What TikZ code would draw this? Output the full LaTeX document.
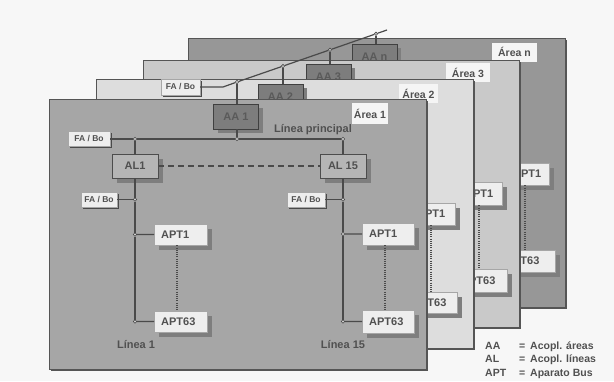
\documentclass[tikz,border=0pt]{standalone}
\usepackage{fontspec}
\setmainfont{Liberation Sans}
\usetikzlibrary{shadows}
\definecolor{linec}{HTML}{4A4A4A}
\definecolor{txt}{HTML}{505050}
\definecolor{aonefill}{HTML}{A6A6A6}
\definecolor{atwofill}{HTML}{DDDDDD}
\definecolor{athreefill}{HTML}{C9C9C9}
\definecolor{anfill}{HTML}{979797}
\definecolor{pborder}{HTML}{555555}
\definecolor{boxfill}{HTML}{EEEEEE}
\definecolor{shadowc}{HTML}{7E7E7E}
\definecolor{aafill}{HTML}{7D7D7D}
\definecolor{aatext}{HTML}{5A5A5A}
\definecolor{alfill}{HTML}{B5B5B5}
\definecolor{bgc}{HTML}{F7F7F7}
\begin{document}
\begin{tikzpicture}[x=1pt,y=-1pt,
  panel/.style={draw=pborder,line width=1pt,drop shadow={shadow xshift=1.6pt,shadow yshift=-1.6pt,fill=pborder,opacity=1}},
  lbl/.style={fill=white!96!black,inner sep=0pt,minimum width=40pt,minimum height=19pt,font=\fontsize{10.5}{12}\selectfont\bfseries,text=txt},
  fabo/.style={draw=gray!70,fill=boxfill,inner sep=0pt,minimum height=15pt,font=\fontsize{8.5}{10}\selectfont\bfseries,text=txt,drop shadow={shadow xshift=1.5pt,shadow yshift=-1.8pt,fill=linec,opacity=1}},
  apt/.style={draw=gray!70,fill=boxfill,inner xsep=7pt,inner ysep=0pt,text width=#1,align=left,font=\fontsize{11}{13}\selectfont\bfseries,text=txt,anchor=north west,drop shadow={shadow xshift=4.5pt,shadow yshift=-4.5pt,fill=shadowc,opacity=1}},
  al/.style={draw=gray!60!black,fill=alfill,minimum width=46pt,minimum height=24pt,inner sep=0pt,font=\fontsize{11}{13}\selectfont\bfseries,text=txt,drop shadow={shadow xshift=4.5pt,shadow yshift=-4.5pt,fill=shadowc,opacity=1}},
  aa/.style={draw=gray!50!black,fill=aafill,minimum width=45pt,minimum height=25pt,inner sep=0pt,font=\fontsize{11}{13}\selectfont\bfseries,text=aatext,drop shadow={shadow xshift=4pt,shadow yshift=-4pt,fill=shadowc,opacity=1}},
  jn/.style={circle,draw=linec,fill=gray!35,line width=0.6pt,inner sep=0pt,minimum size=3.4pt},
  bus/.style={draw=linec,line width=1.2pt},
  dots/.style={draw=linec,line width=1.1pt,dash pattern=on 1pt off 1.2pt},
  linetxt/.style={font=\fontsize{11}{13}\selectfont\bfseries,text=txt,inner sep=0pt},
  leg/.style={font=\fontsize{10.5}{12}\selectfont\bfseries,text=txt,inner sep=0pt,anchor=base west}
]
\useasboundingbox[fill=bgc] (0,0) rectangle (614,381);

% ---------------- Area n ----------------
\path[panel,fill=anfill] (188,38) rectangle (565,307);
\node[aa] (aan) at (374.5,56.5) {AA n};
\node[apt=29pt,minimum height=22pt] (anp1) at (506,163) {APT1};
\node[apt=43pt,minimum height=22pt] (anp63) at (498,250) {APT63};
\coordinate (dxn) at (525,0);
\draw[dots] (dxn |- anp1.south) -- (dxn |- anp63.north);
\node[lbl,minimum width=45pt] (lbn) at (514.5,52) {Área n};

% ---------------- Area 3 ----------------
\path[panel,fill=athreefill] (143,60) rectangle (519,327);
\node[aa] (aa3) at (328.5,76.5) {AA 3};
\node[apt=30pt,minimum height=23pt] (a3p1) at (458,182) {APT1};
\node[apt=39pt,minimum height=23pt] (a3p63) at (454,269) {APT63};
\coordinate (dx3) at (479,0);
\draw[dots] (dx3 |- a3p1.south) -- (dx3 |- a3p63.north);
\node[lbl,minimum width=44pt] (lb3) at (468,72.5) {Área 3};

% ---------------- Area 2 ----------------
\path[panel,fill=atwofill] (96,79) rectangle (473,348);
\node[aa] (aa2) at (280.5,96.5) {AA 2};
\node[fabo,minimum width=39pt,minimum height=16pt] (fb2) at (180.5,87) {FA / Bo};
\node[apt=31pt,minimum height=22pt] (a2p1) at (410,203) {APT1};
\node[apt=38pt,minimum height=21pt] (a2p63) at (405,292) {APT63};
\coordinate (dx2) at (431,0);
\draw[dots] (dx2 |- a2p1.south) -- (dx2 |- a2p63.north);
\node[lbl,minimum width=39pt] (lb2) at (418.5,93.5) {Área 2};

% ---------------- Area 1 ----------------
\path[panel,fill=aonefill] (49,99) rectangle (426,369);
\node[lbl,minimum width=36pt,minimum height=21pt] (lb1) at (370,113.5) {Área 1};
\node[aa] (aa1) at (236,116.5) {AA 1};
\node[linetxt] (lp) at (313,130) {Línea principal};

\node[fabo,minimum width=42pt] (fb0) at (89,139) {FA / Bo};
\node[jn] (j1) at (135,139) {};
\node[jn] (j2) at (237,139) {};
\node[jn] (j3) at (343,139) {};
\draw[bus] (fb0) -- (j1) -- (j2) -- (j3);
\draw[bus] (aa1.south -| j2) -- (j2);

\node[al] (al1) at (135,166) {AL1};
\node[al] (al15) at (343,166) {AL 15};
\draw[bus] (j1) -- (al1);
\draw[bus] (j3) -- (al15);
\draw[draw=linec,line width=1.4pt,dash pattern=on 6pt off 4pt] (al1) -- (al15);

% line 1
\node[fabo,minimum width=36pt] (fb1) at (99,199.5) {FA / Bo};
\node[jn] (jf1) at (135,199.5) {};
\node[jn] (ja1) at (135,234.5) {};
\node[jn] (jb1) at (135,321.5) {};
\node[apt=39pt,minimum height=21pt] (p11) at (154,224) {APT1};
\node[apt=39pt,minimum height=21pt] (p163) at (154,311) {APT63};
\draw[bus] (al1) -- (jf1) -- (ja1) -- (jb1);
\draw[bus] (fb1) -- (jf1);
\draw[bus] (ja1) -- (p11);
\draw[bus] (jb1) -- (p163);
\coordinate (dx1) at (177,0);
\draw[dots] (dx1 |- p11.south) -- (dx1 |- p163.north);
\node[linetxt] (ln1) at (136,345) {Línea 1};

% line 15
\node[fabo,minimum width=38pt] (fb15) at (306,199.5) {FA / Bo};
\node[jn] (jf15) at (343,199.5) {};
\node[jn] (ja15) at (343,234) {};
\node[jn] (jb15) at (343,321.5) {};
\node[apt=38pt,minimum height=22pt] (p151) at (362,223) {APT1};
\node[apt=38pt,minimum height=23pt] (p1563) at (362,310) {APT63};
\draw[bus] (al15) -- (jf15) -- (ja15) -- (jb15);
\draw[bus] (fb15) -- (jf15);
\draw[bus] (ja15) -- (p151);
\draw[bus] (jb15) -- (p1563);
\coordinate (dx15) at (385,0);
\draw[dots] (dx15 |- p151.south) -- (dx15 |- p1563.north);
\node[linetxt] (ln15) at (343,345) {Línea 15};

% ---------------- backbone ----------------
\node[jn] (b1) at (237,82) {};
\node[jn] (b2) at (283,66.1) {};
\node[jn] (b3) at (330,49.8) {};
\node[jn] (b4) at (376,33.8) {};
\coordinate (bk) at (223,87);
\coordinate (bend) at (387,30);
\draw[bus] (fb2) -- (bk) -- (b1) -- (b2) -- (b3) -- (b4) -- (bend);
\draw[bus] (b1) -- (aa1.north -| b1);
\draw[bus] (b2) -- (aa2.north -| b2);
\draw[bus] (b3) -- (aa3.north -| b3);
\draw[bus] (b4) -- (aan.north -| b4);

% ---------------- legend ----------------
\node[leg] (lg1) at (485,349) {AA};
\node[leg] (lg1e) at (519,349) {=};
\node[leg] (lg1t) at (530,349) {Acopl. áreas};
\node[leg] (lg2) at (485,362.5) {AL};
\node[leg] (lg2e) at (519,362.5) {=};
\node[leg] (lg2t) at (530,362.5) {Acopl. líneas};
\node[leg] (lg3) at (485,376) {APT};
\node[leg] (lg3e) at (519,376) {=};
\node[leg] (lg3t) at (530,376) {Aparato Bus};
\end{tikzpicture}
\end{document}
